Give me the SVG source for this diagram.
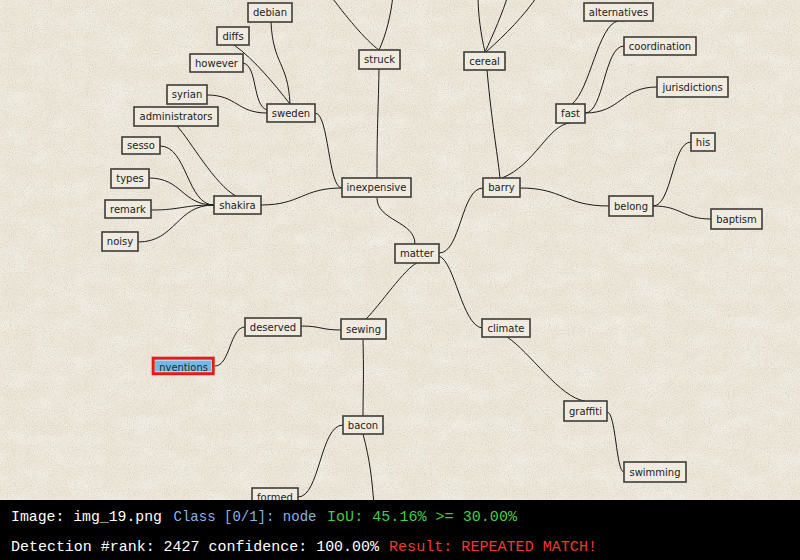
<svg xmlns="http://www.w3.org/2000/svg" width="800" height="560" viewBox="0 0 800 560">
  <defs>
    <filter id="paper" x="0" y="0" width="100%" height="100%">
      <feTurbulence type="fractalNoise" baseFrequency="0.95" numOctaves="2" seed="7" result="fine"/>
      <feColorMatrix in="fine" type="matrix" values="0 0 0 0 0.55  0 0 0 0 0.50  0 0 0 0 0.42  0 0 0 -1.3 0.7" result="specks"/>
      <feTurbulence type="fractalNoise" baseFrequency="0.03 0.06" numOctaves="3" seed="3" result="coarse"/>
      <feColorMatrix in="coarse" type="matrix" values="0 0 0 0 1  0 0 0 0 1  0 0 0 0 0.98  0 0 0 -0.6 0.35" result="mottle"/>
      <feMerge>
        <feMergeNode in="SourceGraphic"/>
        <feMergeNode in="mottle"/>
        <feMergeNode in="specks"/>
      </feMerge>
    </filter>
    <clipPath id="hlclip"><rect x="155" y="360.5" width="56" height="11"/></clipPath>
  </defs>
  <style>
    .node rect { fill: #f0ebe0; stroke: #3e3c36; stroke-width: 1.6; }
    .node text { font-family: "DejaVu Sans", sans-serif; font-size: 10px; fill: #222; text-anchor: middle; }
    .links path { fill: none; stroke: #1a1a1a; stroke-width: 1; }
    .bar text { font-family: "Liberation Mono", "DejaVu Sans Mono", monospace; font-size: 15px; }
  </style>

  <!-- paper background -->
  <rect x="0" y="0" width="800" height="500" fill="#ede7da" filter="url(#paper)"/>

  <g class="links">
    <path d="M271,22 C273,65 288,62 290,104"/>
    <path d="M234,45 C255,60 275,85 290,104"/>
    <path d="M243,63 C258,66 252,105 267,110"/>
    <path d="M207,95 C237,95 237,113 267,113"/>
    <path d="M315,113 C329,113 328,188 342,188"/>
    <path d="M177,126 C190,140 215,185 236,196"/>
    <path d="M160,146 C187,146 187,205 214,205"/>
    <path d="M149,178 C182,178 182,205 214,205"/>
    <path d="M151,210 C182,210 182,205 214,205"/>
    <path d="M138,242 C176,242 176,205 214,205"/>
    <path d="M261,205 C301,205 302,188 342,188"/>
    <path d="M379,69 C378,123 377,124 377,178"/>
    <path d="M379,50 C365,40 345,15 330,-5"/>
    <path d="M379,50 C386,35 391,15 393,-5"/>
    <path d="M485,52 C481,35 478,15 478,-5"/>
    <path d="M485,52 C493,35 503,12 508,-5"/>
    <path d="M486,52 C505,35 525,15 538,-5"/>
    <path d="M487,70 C492,125 497,150 500,178"/>
    <path d="M502,178 C535,165 548,125 570,123"/>
    <path d="M572,104 C590,90 598,25 618,21"/>
    <path d="M585,113 C604,113 604,46 624,46"/>
    <path d="M585,113 C621,113 621,87 657,87"/>
    <path d="M520,188 C564,188 564,206 609,206"/>
    <path d="M653,206 C672,206 672,142 691,142"/>
    <path d="M653,206 C682,206 682,219 711,219"/>
    <path d="M439,253 C461,253 461,188 483,188"/>
    <path d="M415,244 C415,221 377,221 377,198"/>
    <path d="M439,256 C455,262 462,325 482,328"/>
    <path d="M417,263 C405,268 380,305 366,319"/>
    <path d="M301,326 C321,326 321,330 341,330"/>
    <path d="M245,327 C230,327 230,366 215,366"/>
    <path d="M363,340 C364,380 363,390 363,416"/>
    <path d="M343,425 C320,425 320,497 298,497"/>
    <path d="M363,434 C370,460 372,480 374,505"/>
    <path d="M507,337 C530,352 560,398 585,401"/>
    <path d="M607,412 C616,412 616,472 624,472"/>
  </g>

  <g id="n-debian" class="node"><rect x="248" y="3" width="44" height="19"/><text x="270" y="16.1">debian</text></g>
  <g id="n-diffs" class="node"><rect x="217" y="27" width="32" height="18"/><text x="233" y="39.6">diffs</text></g>
  <g id="n-however" class="node"><rect x="190" y="54" width="53" height="18"/><text x="216.5" y="66.6">however</text></g>
  <g id="n-syrian" class="node"><rect x="167" y="85" width="40" height="19"/><text x="187" y="98.1">syrian</text></g>
  <g id="n-administrators" class="node"><rect x="134" y="107" width="84" height="19"/><text x="176" y="120.1">administrators</text></g>
  <g id="n-sweden" class="node"><rect x="267" y="104" width="48" height="18"/><text x="291" y="116.6">sweden</text></g>
  <g id="n-sesso" class="node"><rect x="122" y="137" width="38" height="17"/><text x="141" y="149.1">sesso</text></g>
  <g id="n-types" class="node"><rect x="111" y="169" width="38" height="19"/><text x="130" y="182.1">types</text></g>
  <g id="n-remark" class="node"><rect x="105" y="200" width="46" height="18"/><text x="128" y="212.6">remark</text></g>
  <g id="n-noisy" class="node"><rect x="102" y="232" width="36" height="19"/><text x="120" y="245.1">noisy</text></g>
  <g id="n-shakira" class="node"><rect x="214" y="196" width="47" height="18"/><text x="237.5" y="208.6">shakira</text></g>
  <g id="n-inexpensive" class="node"><rect x="342" y="178" width="69" height="19"/><text x="376.5" y="191.1">inexpensive</text></g>
  <g id="n-struck" class="node"><rect x="359" y="50" width="41" height="19"/><text x="379.5" y="63.1">struck</text></g>
  <g id="n-cereal" class="node"><rect x="464" y="52" width="41" height="18"/><text x="484.5" y="64.6">cereal</text></g>
  <g id="n-barry" class="node"><rect x="483" y="178" width="37" height="19"/><text x="501.5" y="191.1">barry</text></g>
  <g id="n-alternatives" class="node"><rect x="584" y="3" width="69" height="18"/><text x="618.5" y="15.6">alternatives</text></g>
  <g id="n-coordination" class="node"><rect x="624" y="37" width="72" height="18"/><text x="660" y="49.6">coordination</text></g>
  <g id="n-jurisdictions" class="node"><rect x="657" y="77" width="71" height="20"/><text x="692.5" y="90.6">jurisdictions</text></g>
  <g id="n-fast" class="node"><rect x="556" y="104" width="29" height="19"/><text x="570.5" y="117.1">fast</text></g>
  <g id="n-his" class="node"><rect x="691" y="133" width="24" height="18"/><text x="703" y="145.6">his</text></g>
  <g id="n-belong" class="node"><rect x="609" y="196" width="44" height="20"/><text x="631" y="209.6">belong</text></g>
  <g id="n-baptism" class="node"><rect x="711" y="209" width="51" height="20"/><text x="736.5" y="222.6">baptism</text></g>
  <g id="n-matter" class="node"><rect x="395" y="244" width="44" height="19"/><text x="417" y="257.1">matter</text></g>
  <g id="n-deserved" class="node"><rect x="245" y="318" width="56" height="18"/><text x="273" y="330.6">deserved</text></g>
  <g id="n-sewing" class="node"><rect x="341" y="319" width="45" height="20"/><text x="363.5" y="332.6">sewing</text></g>
  <g id="n-climate" class="node"><rect x="482" y="319" width="48" height="18"/><text x="506" y="331.6">climate</text></g>
  <g id="n-graffiti" class="node"><rect x="564" y="401" width="43" height="20"/><text x="585.5" y="414.6">graffiti</text></g>
  <g id="n-swimming" class="node"><rect x="624" y="462" width="62" height="20"/><text x="655" y="475.6">swimming</text></g>
  <g id="n-bacon" class="node"><rect x="343" y="416" width="40" height="18"/><text x="363" y="428.6">bacon</text></g>
  <g id="n-formed" class="node"><rect x="252" y="488" width="46" height="19"/><text x="275" y="501.1">formed</text></g>

  <!-- highlighted node -->
  <g id="n-inventions">
    <rect x="153.2" y="358.2" width="60" height="15.5" fill="#f4f4f0" stroke="#e01c1c" stroke-width="3"/>
    <rect x="155" y="360.5" width="56" height="11" fill="#74b8e6"/>
    <text x="159.3" y="371" clip-path="url(#hlclip)" font-family="DejaVu Sans, sans-serif" font-size="10.5" fill="#1a2a3a" textLength="48.5" lengthAdjust="spacingAndGlyphs">nventions</text>
  </g>

  <!-- status bar -->
  <g class="bar">
    <rect x="0" y="500" width="800" height="60" fill="#000"/>
    <text x="11" y="521" fill="#ffffff" textLength="151" lengthAdjust="spacingAndGlyphs">Image: img_19.png</text>
    <text x="173.5" y="521" fill="#86b4e6" textLength="143" lengthAdjust="spacingAndGlyphs">Class [0/1]: node</text>
    <text x="327" y="521" fill="#45cc45" textLength="190" lengthAdjust="spacingAndGlyphs">IoU: 45.16% &gt;= 30.00%</text>
    <text x="11" y="551" fill="#ffffff" textLength="368" lengthAdjust="spacingAndGlyphs">Detection #rank: 2427 confidence: 100.00%</text>
    <text x="389" y="551" fill="#ee3a30" textLength="208" lengthAdjust="spacingAndGlyphs">Result: REPEATED MATCH!</text>
  </g>
</svg>
